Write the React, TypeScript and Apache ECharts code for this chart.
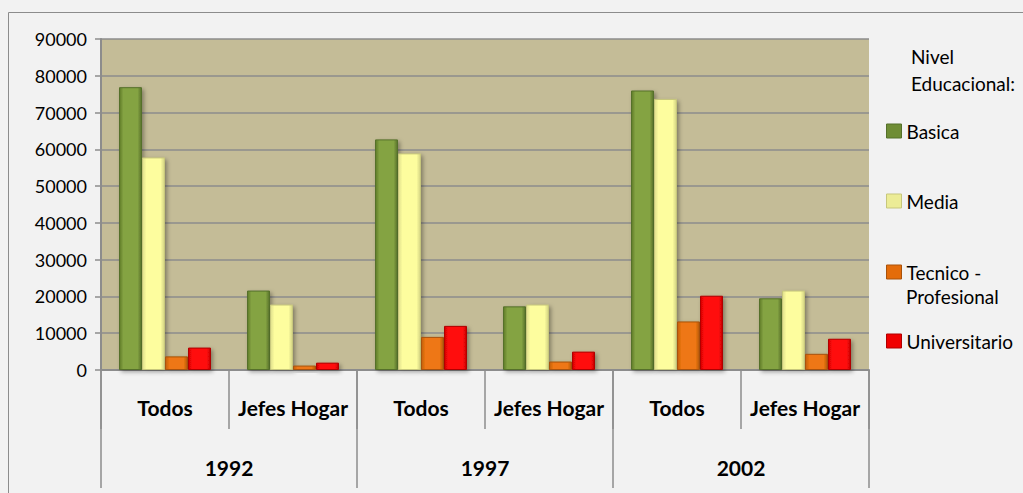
import React, { useEffect, useRef } from "react";
import * as echarts from "echarts";

const groups = ["Todos", "Jefes Hogar", "Todos", "Jefes Hogar", "Todos", "Jefes Hogar"];
const years = ["1992", "1997", "2002"];
const yTicks = { min: 0, max: 90000, interval: 10000 };

const basica = [76900, 21600, 62700, 17300, 76000, 19500];
const media = [57800, 17800, 58900, 17800, 73700, 21600];
const tecnico = [3700, 1200, 9000, 2300, 13200, 4400];
const universitario = [6100, 2000, 12000, 5000, 20200, 8500];

const seriesNames = ["Basica", "Media", "Tecnico - Profesional", "Universitario"];
const legendTitle = "Nivel\nEducacional:";

const FONT = "Lato, 'Open Sans', sans-serif";

function hGrad(edge: string, mid: string, edge2: string) {
  return new echarts.graphic.LinearGradient(0, 0, 1, 0, [
    { offset: 0, color: edge },
    { offset: 0.18, color: mid },
    { offset: 0.82, color: mid },
    { offset: 1, color: edge2 },
  ]);
}

const styles = [
  { fill: () => hGrad("#5f7b29", "#84a342", "#58722a"), border: "#55702a", icon: "#6f8d35" },
  { fill: () => hGrad("#dede8c", "#fdfd9e", "#d2d283"), border: "#c7c77c", icon: "#ecec96" },
  { fill: () => hGrad("#c2600c", "#ee7712", "#b6580b"), border: "#a9520a", icon: "#e46c0a" },
  { fill: () => hGrad("#d40000", "#ff0d0d", "#c80000"), border: "#b00000", icon: "#f00000" },
];

const dataSets = [basica, media, tecnico, universitario];
const legendCenters = [131, 201, 272, 341];

export default function App() {
  const ref = useRef<HTMLDivElement>(null);
  useEffect(() => {
    if (!ref.current) return;
    const chart = echarts.init(ref.current, null, { renderer: "svg" });
    const axisGray = "#8c8c8c";
    const series = seriesNames.map((name, i) => ({
      name,
      type: "bar" as const,
      xAxisIndex: 0,
      yAxisIndex: 0,
      data: dataSets[i],
      barWidth: 23,
      barGap: "0%",
      itemStyle: {
        color: styles[i].fill(),
        borderColor: styles[i].border,
        borderWidth: 1,
        shadowBlur: 4,
        shadowOffsetX: 2,
        shadowOffsetY: 2,
        shadowColor: "rgba(0,0,0,0.35)",
      },
      emphasis: { disabled: true },
    }));
    const legends = seriesNames.map((name, i) => ({
      data: [{ name, icon: "rect", itemStyle: { color: styles[i].icon, borderColor: styles[i].border, borderWidth: 1 } }],
      left: 886,
      top: legendCenters[i] - 10,
      orient: "vertical" as const,
      padding: 0,
      itemWidth: 15,
      itemHeight: 14,
      selectedMode: false,
      formatter: (n: string) => (n === "Tecnico - Profesional" ? "Tecnico -" : n),
      textStyle: { fontFamily: FONT, fontSize: 19, color: "#000", lineHeight: 20 },
    }));
    chart.setOption({
      animation: false,
      backgroundColor: "#f2f2f2",
      textStyle: { fontFamily: FONT },
      title: {
        text: legendTitle,
        left: 911,
        top: 43,
        padding: 0,
        textStyle: { fontFamily: FONT, fontSize: 19, fontWeight: "normal", color: "#000", lineHeight: 27 },
      },
      legend: legends,
      grid: { left: 101, top: 39, width: 768, height: 331, backgroundColor: "#c4bc97", show: true, borderWidth: 0 },
      xAxis: [
        {
          type: "category",
          data: groups,
          position: "bottom",
          boundaryGap: true,
          axisLine: { show: true, lineStyle: { color: axisGray, width: 2 } },
          axisTick: { show: true, interval: 0, length: 59, lineStyle: { color: axisGray, width: 1.5 } },
          axisLabel: { interval: 0, margin: 27, fontFamily: FONT, fontSize: 21, fontWeight: "bold", color: "#000" },
          splitLine: { show: false },
        },
        {
          type: "category",
          data: years,
          position: "bottom",
          boundaryGap: true,
          axisLine: { show: false },
          axisTick: { show: true, interval: 0, length: 118, lineStyle: { color: axisGray, width: 1.5 } },
          axisLabel: { interval: 0, margin: 87, fontFamily: FONT, fontSize: 21, fontWeight: "bold", color: "#000" },
          splitLine: { show: false },
        },
      ],
      yAxis: {
        type: "value",
        min: yTicks.min,
        max: yTicks.max,
        interval: yTicks.interval,
        axisLine: { show: true, lineStyle: { color: axisGray, width: 2 } },
        axisTick: { show: true, length: 6, lineStyle: { color: axisGray, width: 1.5 } },
        axisLabel: { margin: 14, fontFamily: FONT, fontSize: 18, color: "#000", formatter: (v: number) => String(v) },
        splitLine: { show: true, lineStyle: { color: axisGray, width: 1.5 } },
      },
      graphic: [
        {
          type: "rect",
          shape: { x: 8.5, y: 12.5, width: 1100, height: 600 },
          style: { fill: "none", stroke: "#8c8c8c", lineWidth: 1 },
          silent: true,
        },
        {
          type: "text",
          left: 906,
          top: 287,
          style: { text: "Profesional", fontFamily: FONT, fontSize: 19, fill: "#000" },
          silent: true,
        },
      ],
      series,
    });
    return () => chart.dispose();
  }, []);
  return (
    <div style={{ position: "fixed", left: 0, top: 0, width: 1023, height: 493, background: "#f2f2f2" }}>
      <div ref={ref} style={{ width: 1023, height: 493 }} />
    </div>
  );
}
